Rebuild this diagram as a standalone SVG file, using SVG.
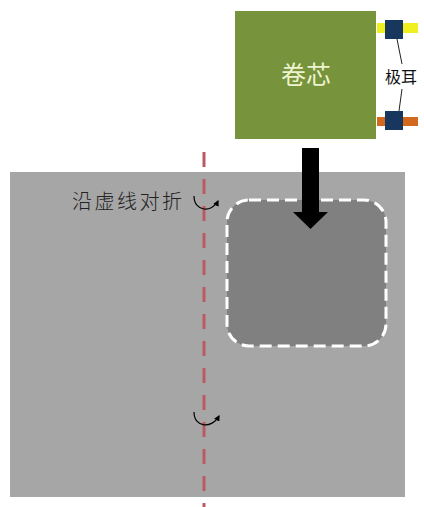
<svg xmlns="http://www.w3.org/2000/svg" width="424" height="507" viewBox="0 0 424 507">
<defs>
<style>
.cjk{font-family:"Noto Sans CJK SC","Noto Sans",sans-serif}
.curl{fill:none;stroke:#000;stroke-width:1.2}
.tabline{stroke:#222;stroke-width:1}
</style>
<marker id="ah" viewBox="0 0 10 10" refX="8" refY="5" markerWidth="6" markerHeight="6" orient="auto" markerUnits="userSpaceOnUse"><path d="M0,0 L10,5 L0,10 Z" fill="#000"/></marker>
</defs>
<rect width="424" height="507" fill="#fff"/>
<g id="sheet">
<rect x="10" y="172" width="395" height="325" fill="#a6a6a6"/>
</g>
<g id="pocket">
<rect x="227" y="200" width="159" height="146" rx="22" fill="#808080" stroke="#fff" stroke-width="3" stroke-dasharray="12 6"/>
</g>
<g id="fold-line">
<line x1="204" y1="152" x2="204" y2="507" stroke="#bb5a62" stroke-width="3" stroke-dasharray="15 12"/>
</g>
<g id="core">
<rect x="235" y="11" width="141" height="128" fill="#77933c"/>
<text x="306" y="84" text-anchor="middle" class="cjk" font-size="25" fill="#eef4cf">卷芯</text>
</g>
<g id="tabs">
<rect x="377" y="23" width="41" height="10" fill="#f0f020"/>
<rect x="377" y="117" width="41" height="9" fill="#d2691e"/>
<rect x="385" y="20" width="18" height="19" fill="#17375e"/>
<rect x="385" y="111" width="18" height="19" fill="#17375e"/>
<text x="401" y="83" text-anchor="middle" class="cjk" font-size="16" fill="#111">极耳</text>
</g>
<g id="connectors">
<line class="tabline" x1="397" y1="39" x2="402" y2="64"/>
<line class="tabline" x1="402" y1="89" x2="399" y2="111"/>
<path d="M302,148 H319 V212 H328 L310.5,229 L293,212 H302 Z" fill="#000"/>
<path class="curl" d="M194,196 C194,212 212,213 218,201" marker-end="url(#ah)"/>
<path class="curl" d="M194,412 C194,428 212,429 219,416" marker-end="url(#ah)"/>
</g>
<g id="label">
<text x="72" y="209" class="cjk" font-size="20" font-weight="300" fill="#222" textLength="110" lengthAdjust="spacing">沿虚线对折</text>
</g>
</svg>
